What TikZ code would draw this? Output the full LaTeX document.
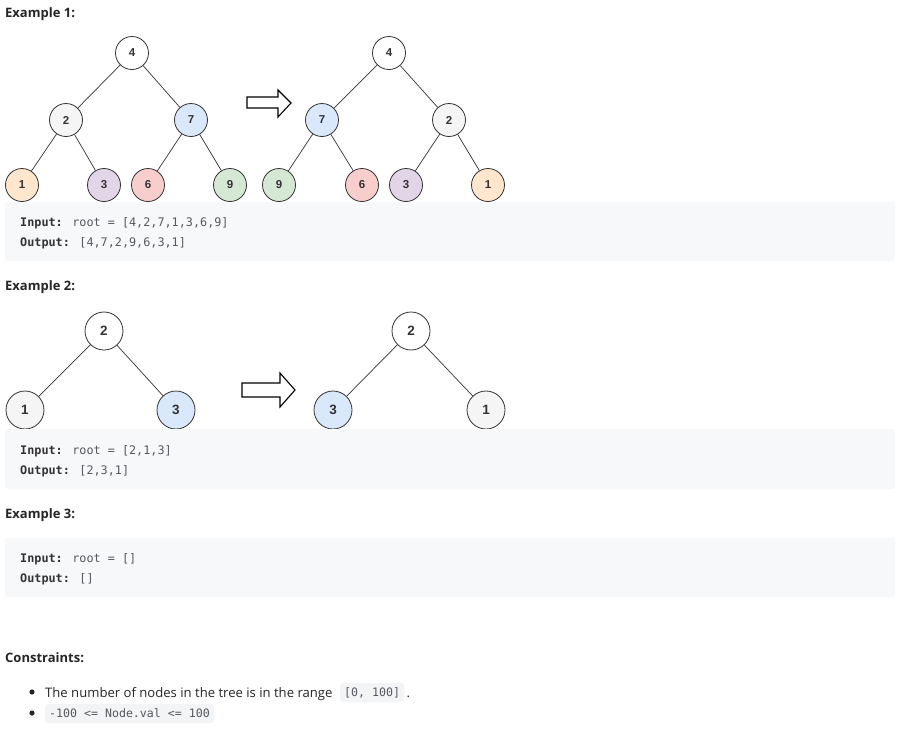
\documentclass[tikz,border=0pt]{standalone}
\usepackage{fontspec}
\setmainfont{Open Sans}
\newfontfamily\codefont{DejaVu Sans Mono}
\newfontfamily\nodefont{Liberation Sans}
\definecolor{linec}{HTML}{333333}
\definecolor{headc}{HTML}{262626}
\definecolor{codebg}{HTML}{F7F8FA}
\definecolor{codetxt}{HTML}{555A60}
\definecolor{codestrong}{HTML}{333333}
\definecolor{inlinebg}{HTML}{F3F4F5}
\definecolor{bodytxt}{HTML}{262626}
\definecolor{cwhite}{HTML}{FFFFFF}
\definecolor{cgray}{HTML}{F5F5F5}
\definecolor{cblue}{HTML}{DAE8FC}
\definecolor{corange}{HTML}{FFE6CC}
\definecolor{cpurple}{HTML}{E1D5E7}
\definecolor{cred}{HTML}{F8CECC}
\definecolor{cgreen}{HTML}{D5E8D4}
\begin{document}
\begin{tikzpicture}[x=1pt,y=-1pt,
  tnode/.style={circle, draw=linec, line width=0.8pt, minimum size=33pt, inner sep=0pt,
    font=\nodefont\bfseries\fontsize{11.5}{11.5}\selectfont, text=linec},
  bnode/.style={tnode, minimum size=38pt, font=\nodefont\bfseries\fontsize{13.5}{13.5}\selectfont},
  edge/.style={draw=linec, line width=0.7pt},
  codebox/.style={fill=codebg, rounded corners=3pt},
  heading/.style={anchor=base west, inner sep=0pt, text=headc, font=\bfseries\fontsize{13}{14}\selectfont},
  codeline/.style={anchor=base west, inner sep=0pt, text=codetxt, font=\codefont\fontsize{11.8}{12}\selectfont},
  blockarrow/.style={draw=black, line width=1.1pt, fill=white, line join=miter},
  bodytext/.style={anchor=base west, inner sep=0pt, text=bodytxt, font=\fontsize{13.1}{14}\selectfont},
  inlinecode/.style={fill=inlinebg, rounded corners=3pt, inner xsep=4pt, inner ysep=0pt,
    minimum height=19pt, text=codetxt, font=\codefont\fontsize{11.6}{12}\selectfont, anchor=west}
]
\useasboundingbox[fill=white] (0,0) rectangle (904,737);

% ---------- Example 1 ----------
\node[heading] (h1) at (5,17.5) {Example 1:};

\node[tnode, fill=cwhite]  (a4) at (132,53) {4};
\node[tnode, fill=cgray]   (a2) at (66,120) {2};
\node[tnode, fill=cblue]   (a7) at (191,120) {7};
\node[tnode, fill=corange] (a1) at (22,185) {1};
\node[tnode, fill=cpurple] (a3) at (104,185) {3};
\node[tnode, fill=cred]    (a6) at (148,185) {6};
\node[tnode, fill=cgreen]  (a9) at (230,185) {9};
\draw[edge] (a4) -- (a2);
\draw[edge] (a4) -- (a7);
\draw[edge] (a2) -- (a1);
\draw[edge] (a2) -- (a3);
\draw[edge] (a7) -- (a6);
\draw[edge] (a7) -- (a9);

\draw[blockarrow] (247,97) -- (278,97) -- (278,90) -- (291,103) -- (278,117) -- (278,108) -- (247,108) -- cycle;

\node[tnode, fill=cwhite]  (b4) at (389,53) {4};
\node[tnode, fill=cblue]   (b7) at (322,120) {7};
\node[tnode, fill=cgray]   (b2) at (449,120) {2};
\node[tnode, fill=cgreen]  (b9) at (279,185) {9};
\node[tnode, fill=cred]    (b6) at (362,185) {6};
\node[tnode, fill=cpurple] (b3) at (406,185) {3};
\node[tnode, fill=corange] (b1) at (488,185) {1};
\draw[edge] (b4) -- (b7);
\draw[edge] (b4) -- (b2);
\draw[edge] (b7) -- (b9);
\draw[edge] (b7) -- (b6);
\draw[edge] (b2) -- (b3);
\draw[edge] (b2) -- (b1);

\fill[codebox] (5,202) rectangle (895,261);
\node[codeline] (in1) at (20,226) {\textcolor{codestrong}{\bfseries Input:} root = [4,2,7,1,3,6,9]};
\node[codeline] (out1) at (20,246) {\textcolor{codestrong}{\bfseries Output:} [4,7,2,9,6,3,1]};

% ---------- Example 2 ----------
\node[heading] (h2) at (5,290.5) {Example 2:};

\node[bnode, fill=cwhite] (c2) at (104,331) {2};
\node[bnode, fill=cgray]  (c1) at (25,410) {1};
\node[bnode, fill=cblue]  (c3) at (176,410) {3};
\draw[edge] (c2) -- (c1);
\draw[edge] (c2) -- (c3);

\draw[blockarrow] (242,383) -- (280,383) -- (280,373) -- (295,390) -- (280,407) -- (280,397) -- (242,397) -- cycle;

\node[bnode, fill=cwhite] (d2) at (411,331) {2};
\node[bnode, fill=cblue]  (d3) at (333,410) {3};
\node[bnode, fill=cgray]  (d1) at (486,410) {1};
\draw[edge] (d2) -- (d3);
\draw[edge] (d2) -- (d1);

\fill[codebox] (5,429) rectangle (895,489);
\node[codeline] (in2) at (20,454) {\textcolor{codestrong}{\bfseries Input:} root = [2,1,3]};
\node[codeline] (out2) at (20,474) {\textcolor{codestrong}{\bfseries Output:} [2,3,1]};

% ---------- Example 3 ----------
\node[heading] (h3) at (5,518.5) {Example 3:};
\fill[codebox] (5,538) rectangle (895,597);
\node[codeline] (in3) at (20,562) {\textcolor{codestrong}{\bfseries Input:} root = []};
\node[codeline] (out3) at (20,582) {\textcolor{codestrong}{\bfseries Output:} []};

% ---------- Constraints ----------
\node[heading] (hc) at (5,662) {Constraints:};

\fill[bodytxt] (32,692) circle (2.6pt);
\node[bodytext] (t1) at (45,697) {The number of nodes in the tree is in the range};
\node[inlinecode] (ic1) at (340,692.5) {[0, 100]};
\node[bodytext, anchor=base west] (dot) at (ic1.east |- t1.base) {\,.};

\fill[bodytxt] (32,713) circle (2.6pt);
\node[inlinecode] (ic2) at (45,713.5) {-100 <= Node.val <= 100};
\end{tikzpicture}
\end{document}
